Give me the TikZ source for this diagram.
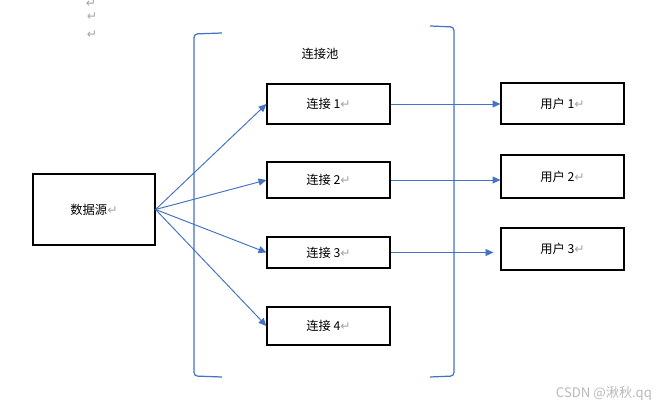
\documentclass[tikz,border=0pt]{standalone}
\usepackage{fontspec}
\setmainfont{Noto Sans CJK SC}
\newfontfamily\symfont{DejaVu Sans}
\usetikzlibrary{arrows.meta}
\definecolor{lineblue}{RGB}{68,114,196}
\definecolor{markgray}{RGB}{165,165,165}
\definecolor{wmgray}{RGB}{185,185,185}
\newcommand{\retmark}{{\symfont\color{markgray}\char"21B5}}

\begin{document}
\begin{tikzpicture}[x=0.02cm,y=-0.02cm,>={Triangle[length=4.5pt,width=4pt]},
	box/.style={draw,line width=0.65pt,minimum width=2.46cm,inner sep=0pt,font=\fontsize{7}{8}\selectfont},
	conn/.style={->,draw=lineblue,line width=0.55pt},
	brak/.style={draw=lineblue,line width=0.7pt,rounded corners=2pt},
	txt/.style={inner sep=0pt,font=\fontsize{7}{8}\selectfont}]
	\useasboundingbox (0,0) rectangle (667,411);
	%Dau xuong dong
	\node[txt] (m1) at (91,3.5) {\retmark};
	\node[txt] (m2) at (92,17) {\retmark};
	\node[txt] (m3) at (92,35) {\retmark};
	%Nguon du lieu
	\node[box,minimum width=2.44cm,minimum height=1.42cm] (src) at (94,209.5) {数据源\retmark};
	%Ngoac ket noi
	\draw[brak] (222,33) -- (194,34) -- (194,376) -- (222,377);
	\draw[brak] (430,26) -- (454,27) -- (454,376) -- (430,377);
	\node[txt] (pool) at (320,54) {连接池};
	%Ket noi
	\node[box,minimum height=0.8cm] (c1) at (328.5,104) {连接 1\retmark};
	\node[box,minimum height=0.72cm] (c2) at (328.5,180) {连接 2\retmark};
	\node[box,minimum height=0.62cm] (c3) at (328.5,252.5) {连接 3\retmark};
	\node[box,minimum height=0.76cm] (c4) at (328.5,326) {连接 4\retmark};
	%Nguoi dung
	\node[box,minimum height=0.82cm] (u1) at (562.5,103.5) {用户 1\retmark};
	\node[box,minimum height=0.86cm] (u2) at (562.5,176.5) {用户 2\retmark};
	\node[box,minimum height=0.84cm] (u3) at (562.5,249) {用户 3\retmark};
	%Mui ten
	\draw[conn] (src.east) -- (c1.west);
	\draw[conn] (src.east) -- (c2.west);
	\draw[conn] (src.east) -- (c3.west);
	\draw[conn] (src.east) -- (c4.west);
	\draw[conn] (c1.east) -- (c1.east -| u1.west);
	\draw[conn] (c2.east) -- (c2.east -| u2.west);
	\draw[conn,shorten >=4pt] (c3.east) -- (c3.east -| u3.west);
	%Watermark
	\node[inner sep=0pt,text=wmgray,font=\fontsize{7.5}{9}\selectfont] (wm) at (604,393) {CSDN @湫秋.qq};
\end{tikzpicture}
\end{document}
